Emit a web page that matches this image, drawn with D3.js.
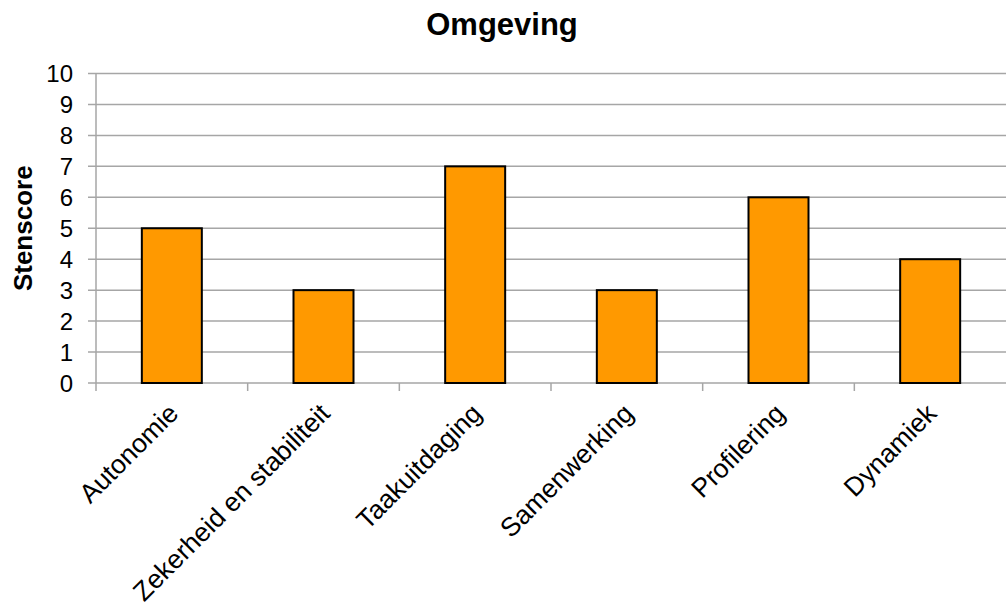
<!DOCTYPE html>
<html>
<head>
<meta charset="utf-8">
<script src="https://cdn.jsdelivr.net/npm/d3@7"></script>
<style>
  html, body { margin: 0; padding: 0; background: #fff; }
  svg { display: block; font-family: "Liberation Sans", Arial, sans-serif; }
</style>
</head>
<body>
<svg id="chart" width="1006" height="605"></svg>
<script>
// Stenscores per werkomgeving-factor
const categories = ["Autonomie", "Zekerheid en stabiliteit", "Taakuitdaging", "Samenwerking", "Profilering", "Dynamiek"];
const scores = [5, 3, 7, 3, 6, 4];
const yTicks = [0, 1, 2, 3, 4, 5, 6, 7, 8, 9, 10];
const title = "Omgeving";
const yLabel = "Stenscore";

const svg = d3.select("#chart");
const W = 1006, H = 605;
const plotLeft = 96, plotTop = 73.5, plotBottom = 383;

const x = d3.scaleBand().domain(categories).range([plotLeft, W]).paddingInner(0).paddingOuter(0);
const y = d3.scaleLinear().domain([0, 10]).range([plotBottom, plotTop]);

// gridlines
svg.append("g")
  .selectAll("line")
  .data(yTicks)
  .join("line")
  .attr("x1", plotLeft - 8)
  .attr("x2", W)
  .attr("y1", d => y(d))
  .attr("y2", d => y(d))
  .attr("stroke", "#a6a6a6")
  .attr("stroke-width", 1.5);

// y axis line
svg.append("line")
  .attr("x1", plotLeft).attr("x2", plotLeft)
  .attr("y1", y(10)).attr("y2", y(0) + 8)
  .attr("stroke", "#a6a6a6").attr("stroke-width", 1.5);

// category tick marks
svg.append("g")
  .selectAll("line")
  .data(categories.slice(1))
  .join("line")
  .attr("x1", d => x(d)).attr("x2", d => x(d))
  .attr("y1", y(0)).attr("y2", y(0) + 8)
  .attr("stroke", "#a6a6a6").attr("stroke-width", 1.5);

// y tick labels
svg.append("g")
  .selectAll("text")
  .data(yTicks)
  .join("text")
  .attr("x", 73)
  .attr("y", d => y(d))
  .attr("dy", "0.36em")
  .attr("text-anchor", "end")
  .attr("font-size", 24)
  .attr("fill", "#000")
  .text(d => d);

// bars
const barW = 60;
svg.append("g")
  .selectAll("rect")
  .data(scores)
  .join("rect")
  .attr("x", (d, i) => x(categories[i]) + x.bandwidth() / 2 - barW / 2)
  .attr("y", d => y(d))
  .attr("width", barW)
  .attr("height", d => y(0) - y(d))
  .attr("fill", "#ff9900")
  .attr("stroke", "#000")
  .attr("stroke-width", 2);

// category labels, rotated
svg.append("g")
  .selectAll("text")
  .data(categories)
  .join("text")
  .attr("transform", d => `translate(${x(d) + x.bandwidth() / 2 + 8},${y(0) + 32}) rotate(-45)`)
  .attr("text-anchor", "end")
  .attr("font-size", 26.5)
  .attr("fill", "#000")
  .text(d => d);

// title
svg.append("text")
  .attr("x", 502)
  .attr("y", 35)
  .attr("text-anchor", "middle")
  .attr("font-size", 31)
  .attr("font-weight", "bold")
  .text(title);

// y axis title
svg.append("text")
  .attr("transform", `translate(32,${(y(0) + y(10)) / 2}) rotate(-90)`)
  .attr("text-anchor", "middle")
  .attr("font-size", 26)
  .attr("font-weight", "bold")
  .text(yLabel);
</script>
</body>
</html>
